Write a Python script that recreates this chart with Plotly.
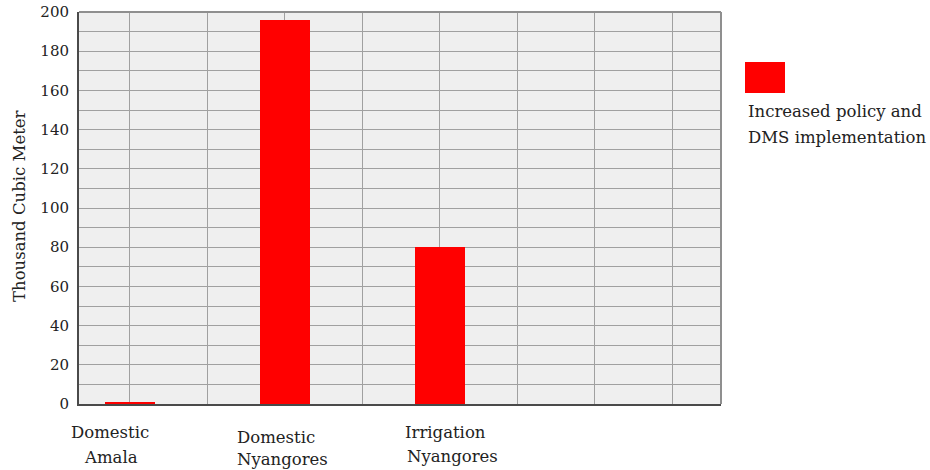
import plotly.graph_objects as go

# Water demand saved per user category (thousand m³)
categories = ["Domestic Amala", "Domestic Nyangores", "Irrigation Nyangores"]
values = [1, 196, 80]
series_name = "Increased policy and DMS implementation"
y_ticks = [0, 20, 40, 60, 80, 100, 120, 140, 160, 180, 200]

FONT = "DejaVu Serif"
TEXT = "#222222"
GRID = "#a0a0a0"

x_pos = list(range(len(categories)))

fig = go.Figure()
fig.add_trace(go.Bar(
    x=x_pos, y=values, width=0.32,
    marker=dict(color="#ff0000", line=dict(width=0)),
    name=series_name, showlegend=False,
))

fig.update_layout(
    width=930, height=470,
    margin=dict(l=79, r=209, t=12, b=66, autoexpand=False),
    paper_bgcolor="white", plot_bgcolor="#efefef",
    font=dict(family=FONT, color=TEXT, size=15),
    bargap=0,
)

fig.update_xaxes(
    range=[-0.329, 3.813], tickvals=[0, 1, 2, 3], showticklabels=False,
    showgrid=True, gridcolor=GRID, gridwidth=1,
    minor=dict(dtick=0.5, tick0=0, showgrid=True, gridcolor=GRID, gridwidth=1),
    showline=True, linecolor="#4a4a4a", linewidth=2,
    zeroline=False, fixedrange=True, automargin=False,
)
fig.update_yaxes(
    range=[0, 200], tickvals=y_ticks, ticktext=[str(v) for v in y_ticks],
    tickfont=dict(family=FONT, size=15, color=TEXT),
    showgrid=True, gridcolor=GRID, gridwidth=1,
    minor=dict(dtick=10, tick0=0, showgrid=True, gridcolor=GRID, gridwidth=1),
    showline=True, linecolor="#4a4a4a", linewidth=2,
    ticks="outside", ticklen=5, tickcolor="rgba(0,0,0,0)",
    zeroline=False, fixedrange=True, automargin=False,
)

# top and right frame edges, lighter than the axis lines
fig.add_shape(type="line", xref="paper", yref="paper", x0=0, x1=1, y0=1, y1=1,
              line=dict(color="#8f8f8f", width=2))
fig.add_shape(type="line", xref="paper", yref="paper", x0=1, x1=1, y0=0, y1=1,
              line=dict(color="#8f8f8f", width=2))

# y-axis title
fig.add_annotation(text="Thousand Cubic Meter", xref="paper", yref="paper",
                   x=0, y=0.5, xshift=-60, yshift=2, textangle=-90, showarrow=False,
                   font=dict(family=FONT, size=16.5, color=TEXT),
                   xanchor="center", yanchor="middle")

# two-line category labels under the axis
label_offsets = [(-20, -19, 28, 53), (-9, -2, 33, 55), (6, 13, 28, 52)]
for i, name in enumerate(categories):
    first, second = name.split(" ", 1)
    dx1, dx2, dy1, dy2 = label_offsets[i]
    fig.add_annotation(text=first, xref="x", yref="paper", x=x_pos[i], y=0,
                       xshift=dx1, yshift=-dy1, showarrow=False,
                       font=dict(family=FONT, size=16.5, color=TEXT),
                       xanchor="center", yanchor="middle")
    fig.add_annotation(text=second, xref="x", yref="paper", x=x_pos[i], y=0,
                       xshift=dx2, yshift=-dy2, showarrow=False,
                       font=dict(family=FONT, size=16.5, color=TEXT),
                       xanchor="center", yanchor="middle")

# legend: swatch with the series name beneath it, on two lines
fig.add_shape(type="rect", xref="paper", yref="paper",
              x0=(745 - 79) / 642, x1=(785 - 79) / 642,
              y0=(404 - 93) / 392, y1=(404 - 62) / 392,
              fillcolor="#ff0000", line=dict(width=0))
legend_lines = series_name.replace(" DMS", "\nDMS").split("\n")
for k, line_text in enumerate(legend_lines):
    fig.add_annotation(text=line_text, xref="paper", yref="paper",
                       x=(746 - 79) / 642, y=(404 - 112 - 25 * k) / 392,
                       showarrow=False, align="left", xanchor="left", yanchor="middle",
                       font=dict(family=FONT, size=16.5, color=TEXT))

fig.write_html("out.html")
